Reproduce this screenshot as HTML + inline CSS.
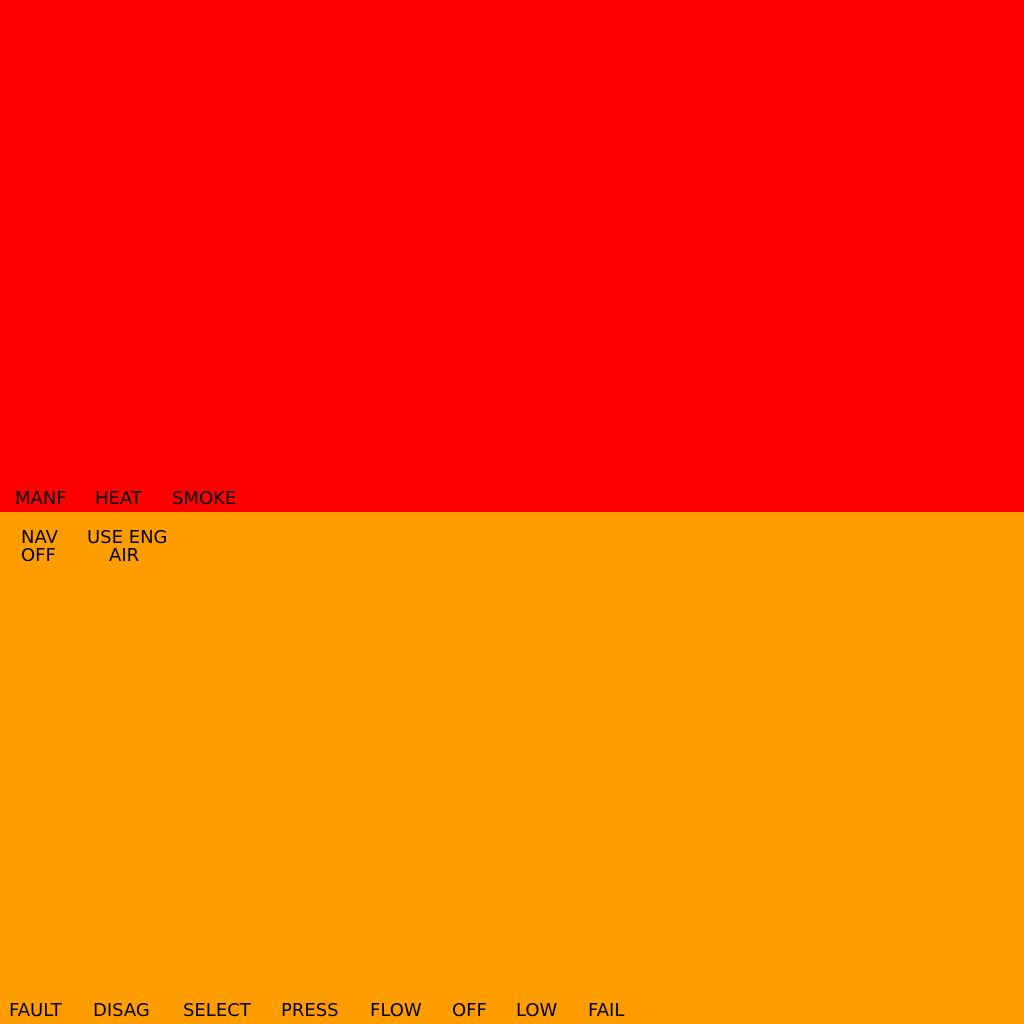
<!DOCTYPE html>
<html><head><meta charset="utf-8"><style>
html,body{margin:0;padding:0;width:1024px;height:1024px;overflow:hidden}
.p{position:absolute;left:0;width:1024px}
.t{position:absolute;font-family:"DejaVu Sans","Liberation Sans",sans-serif;font-size:18px;line-height:18px;color:#000;white-space:nowrap}
</style></head><body>
<div class="p" style="top:0;height:512px;background:#ff0000"></div>
<div class="p" style="top:512px;height:512px;background:#ff9c00"></div>
<div class="t" style="left:15px;top:490px">MANF</div>
<div class="t" style="left:95px;top:490px">HEAT</div>
<div class="t" style="left:172px;top:490px">SMOKE</div>
<div class="t" style="left:21px;top:529px">NAV<br>OFF</div>
<div class="t" style="left:87px;top:529px">USE ENG</div>
<div class="t" style="left:109px;top:547px">AIR</div>
<div class="t" style="left:9px;top:1002px">FAULT</div>
<div class="t" style="left:93px;top:1002px">DISAG</div>
<div class="t" style="left:183px;top:1002px">SELECT</div>
<div class="t" style="left:281px;top:1002px">PRESS</div>
<div class="t" style="left:370px;top:1002px">FLOW</div>
<div class="t" style="left:452px;top:1002px">OFF</div>
<div class="t" style="left:516px;top:1002px">LOW</div>
<div class="t" style="left:588px;top:1002px">FAIL</div>
</body></html>
